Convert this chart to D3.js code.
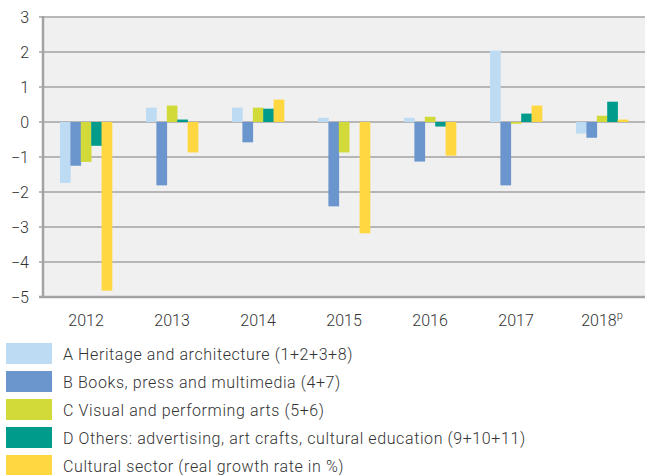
<!DOCTYPE html>
<html>
<head>
<meta charset="utf-8">
<script src="https://cdn.jsdelivr.net/npm/d3@7"></script>
<style>
  body { margin: 0; background: #fff; }
  text { font-family: Roboto, "Noto Sans", sans-serif; fill: #333; font-weight: 300; }
</style>
</head>
<body>
<svg id="chart" width="645" height="475"></svg>
<script>
// data
var years = ["2012", "2013", "2014", "2015", "2016", "2017", "2018"];
var seriesNames = [
  "A Heritage and architecture (1+2+3+8)",
  "B Books, press and multimedia (4+7)",
  "C Visual and performing arts (5+6)",
  "D Others: advertising, art crafts, cultural education (9+10+11)",
  "Cultural sector (real growth rate in %)"
];
var heritage = [-1.74, 0.41, 0.41, 0.12, 0.12, 2.04, -0.33];
var books    = [-1.25, -1.81, -0.58, -2.41, -1.13, -1.81, -0.45];
var visual   = [-1.14, 0.47, 0.41, -0.87, 0.15, -0.05, 0.18];
var others   = [-0.68, 0.07, 0.38, 0.0, -0.13, 0.24, 0.58];
var sector   = [-4.82, -0.87, 0.64, -3.18, -0.96, 0.47, 0.07];
var yTicks = [3, 2, 1, 0, -1, -2, -3, -4, -5];
var colors = ["#bddbf3", "#6a95cd", "#d2da3a", "#009b8a", "#ffd740"];

var series = [heritage, books, visual, others, sector];

var svg = d3.select("#chart"),
    margin = {top: 17, right: 0, bottom: 178, left: 43},
    width = +svg.attr("width") - margin.left - margin.right,
    height = +svg.attr("height") - margin.top - margin.bottom;

var x0 = d3.scaleBand().domain(years).range([0, width]);
var x1 = d3.scaleBand().domain(d3.range(series.length)).range([-26, 26]);
var y = d3.scaleLinear().domain([-5, 3]).range([height, 0]);

var g = svg.append("g")
    .attr("transform", "translate(" + margin.left + "," + margin.top + ")");

// plot background
g.append("rect")
    .attr("width", width)
    .attr("height", height)
    .attr("fill", "#f0f0f0");

// gridlines
g.selectAll(".grid")
  .data(yTicks)
  .enter().append("line")
    .attr("x1", -4)
    .attr("x2", width)
    .attr("y1", function(d) { return y(d); })
    .attr("y2", function(d) { return y(d); })
    .attr("stroke", "#a3a3a3")
    .attr("stroke-width", function(d) { return d === -5 ? 2.5 : 1.6; });

// bars
years.forEach(function(yr, i) {
  var grp = g.append("g")
      .attr("transform", "translate(" + (x0(yr) + x0.bandwidth() / 2) + ",0)");
  series.forEach(function(s, j) {
    var v = s[i];
    grp.append("rect")
        .attr("x", x1(j))
        .attr("width", x1.bandwidth() + 0.3)
        .attr("y", y(Math.max(0, v)))
        .attr("height", Math.abs(y(v) - y(0)))
        .attr("fill", colors[j]);
  });
});

// left axis line
g.append("line")
    .attr("x1", 0).attr("x2", 0)
    .attr("y1", y(3) - 1).attr("y2", height + 1)
    .attr("stroke", "#a3a3a3")
    .attr("stroke-width", 2.5);

// y tick labels
g.selectAll(".ylab")
  .data(yTicks)
  .enter().append("text")
    .attr("x", -14)
    .attr("y", function(d) { return y(d); })
    .attr("dy", "0.35em")
    .attr("text-anchor", "end")
    .style("font-size", "16px")
    .text(function(d) { return d < 0 ? "\u2212" + Math.abs(d) : d; });

// x labels
var xl = g.selectAll(".xlab")
  .data(years)
  .enter().append("text")
    .attr("x", function(d) { return x0(d) + x0.bandwidth() / 2; })
    .attr("y", height + 29)
    .attr("text-anchor", "middle")
    .style("font-size", "16px")
    .text(function(d) { return d; });
xl.filter(function(d) { return d === "2018"; })
  .append("tspan")
    .attr("dy", -7)
    .style("font-size", "11px")
    .text("p");

// legend
var legend = svg.selectAll(".legend")
  .data(seriesNames)
  .enter().append("g")
    .attr("transform", function(d, i) { return "translate(6," + (343 + i * 28) + ")"; });

legend.append("rect")
    .attr("width", 46)
    .attr("height", 21)
    .attr("fill", function(d, i) { return colors[i]; });

legend.append("text")
    .attr("x", 57)
    .attr("y", 17)
    .style("font-size", "16px")
    .style("letter-spacing", "0.6px")
    .text(function(d) { return d; });
</script>
</body>
</html>
